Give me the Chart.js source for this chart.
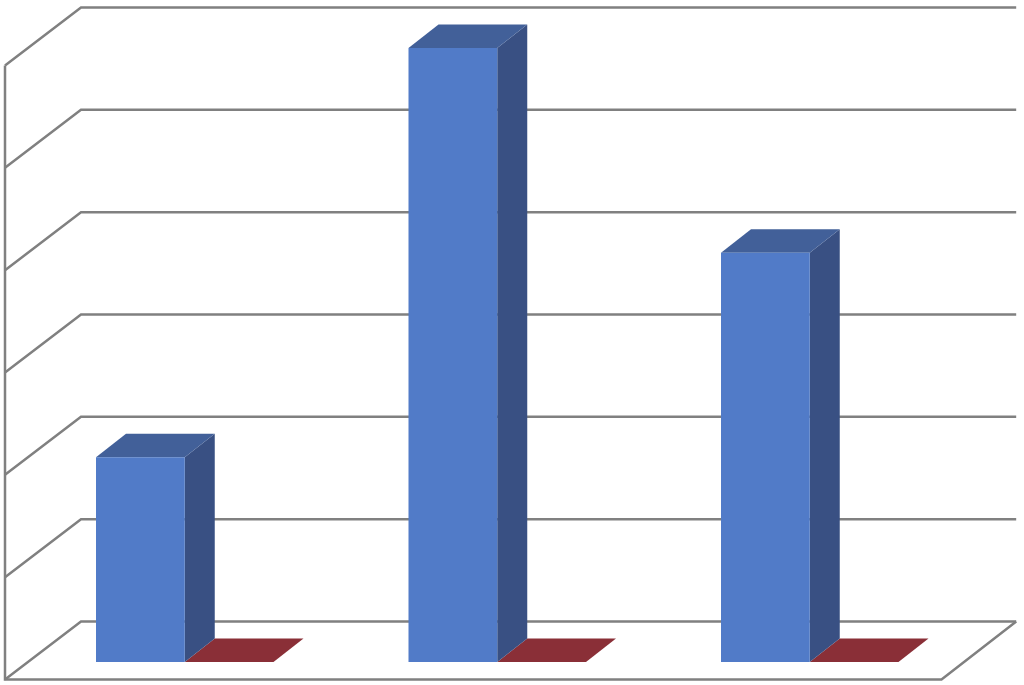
<!DOCTYPE html>
<html>
<head>
<meta charset="utf-8">
<style>html,body{margin:0;padding:0;background:#fff}canvas{display:block}</style>
<script src="https://cdn.jsdelivr.net/npm/chart.js@4"></script>
</head>
<body>
<canvas id="c" width="1024" height="685"></canvas>
<script>
const categories = ['1', '2', '3'];
const seriesA = [2, 6, 4];
const seriesB = [0, 0, 0];
const yMin = 0, yMax = 6, yStep = 1;

const gridColor = '#808080';
const seriesStyles = [
  {front:'#517bc8', top:'#426099', side:'#395083'},
  {front:'#8a2f37', top:'#8a2f37', side:'#6e2229'}
];

// Offsets from the plane of the bars
const barDepth = {x:30, y:-23.5};
const wallBack = {x:52.5, y:-40.5};
const wallFront = {x:-23.5, y:17.5};
const rightTrimBack = -2.3, rightTrimFront = -1;

function poly(ctx, pts, fill){
  ctx.beginPath();
  pts.forEach((p,i)=> i ? ctx.lineTo(p[0],p[1]) : ctx.moveTo(p[0],p[1]));
  ctx.closePath();
  ctx.fillStyle = fill;
  ctx.fill();
}

const box3d = {
  id:'box3d',
  beforeDatasetsDraw(chart){
    const {ctx, chartArea:a, scales:{y}} = chart;
    ctx.save();
    ctx.strokeStyle = gridColor;
    ctx.lineWidth = 2.5;
    ctx.lineJoin = 'miter';
    const L = a.left, R = a.right;
    // Back wall lines and left wall diagonals, one per tick
    y.ticks.forEach(t=>{
      const py = y.getPixelForValue(t.value);
      ctx.beginPath();
      ctx.moveTo(L+wallFront.x, py+wallFront.y);
      ctx.lineTo(L+wallBack.x, py+wallBack.y);
      ctx.lineTo(R+wallBack.x+rightTrimBack, py+wallBack.y);
      ctx.stroke();
    });
    const y0 = y.getPixelForValue(yMin), yT = y.getPixelForValue(yMax);
    // Left front edge, floor front edge, floor right edge
    ctx.beginPath();
    ctx.moveTo(L+wallFront.x, yT+wallFront.y);
    ctx.lineTo(L+wallFront.x, y0+wallFront.y);
    ctx.lineTo(R+wallFront.x+rightTrimFront, y0+wallFront.y);
    ctx.lineTo(R+wallBack.x+rightTrimBack, y0+wallBack.y);
    ctx.stroke();
    // Depth faces of every bar
    [1,0].forEach(ds=>{
      const st = seriesStyles[ds];
      chart.getDatasetMeta(ds).data.forEach(b=>{
        const l = b.x-b.width/2, r = b.x+b.width/2, top = b.y, base = b.base;
        const dx = barDepth.x, dy = barDepth.y;
        if (base-top > 0.5) poly(ctx, [[r,top],[r+dx,top+dy],[r+dx,base+dy],[r,base]], st.side);
        poly(ctx, [[l,top],[l+dx,top+dy],[r+dx,top+dy],[r,top]], st.top);
      });
    });
    ctx.restore();
  }
};

new Chart(document.getElementById('c'), {
  type:'bar',
  data:{
    labels:categories,
    datasets:[
      {label:'Series 1', data:seriesA, backgroundColor:seriesStyles[0].front, borderWidth:0},
      {label:'Series 2', data:seriesB, backgroundColor:seriesStyles[1].front, borderWidth:0}
    ]
  },
  options:{
    responsive:false,
    animation:false,
    devicePixelRatio:1,
    layout:{padding:{left:28.5,right:58,top:48,bottom:23}},
    datasets:{bar:{categoryPercentage:0.568,barPercentage:1}},
    plugins:{legend:{display:false},title:{display:false},tooltip:{enabled:false}},
    scales:{
      x:{grid:{display:false,drawTicks:false},border:{display:false},ticks:{display:false}},
      y:{min:yMin,max:yMax,
         grid:{display:false,drawTicks:false},border:{display:false},
         ticks:{display:false,stepSize:yStep}}
    }
  },
  plugins:[box3d]
});
</script>
</body>
</html>
